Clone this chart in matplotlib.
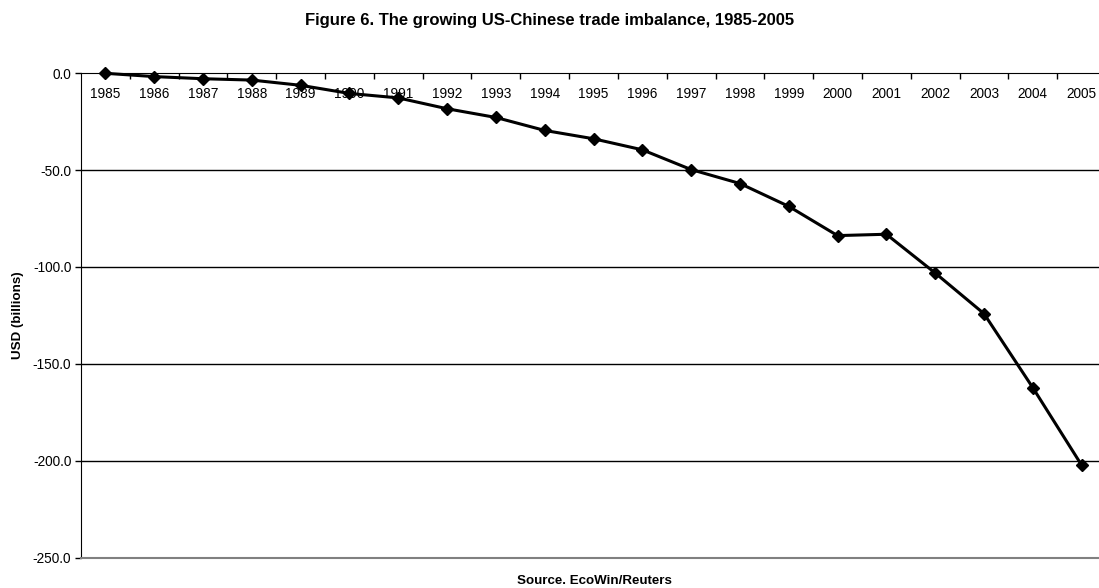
import matplotlib.pyplot as plt
from matplotlib.ticker import FixedLocator

plt.rcParams['font.family'] = ['Liberation Sans', 'DejaVu Sans']

years = [str(y) for y in range(1985, 2006)]
balance = [-0.0, -1.7, -2.8, -3.5, -6.2, -10.4, -12.7, -18.3, -22.8, -29.5,
           -33.8, -39.5, -49.7, -56.9, -68.7, -83.8, -83.1, -103.1, -124.1,
           -162.3, -202.3]
yticks = [0, -50, -100, -150, -200, -250]

W, H = 1099, 588
fig = plt.figure(figsize=(W / 100, H / 100), dpi=100)
left, right, top, bottom = 81, 1106, 73.3, 557.5
ax = fig.add_axes([left / W, 1 - bottom / H, (right - left) / W, (bottom - top) / H])

xs = range(len(years))
ax.plot(xs, balance, color='black', lw=2.2, marker='D', markersize=6.5, clip_on=False, zorder=5)

ax.set_xlim(-0.5, len(years) - 0.5)
ax.set_ylim(-250, 0)
ax.set_yticks(yticks)
ax.set_yticklabels([f"{v:.1f}" for v in yticks])
for v in yticks[1:-1]:
    ax.axhline(v, color='black', lw=1, zorder=1)

# category axis runs along y = 0 at the top
ax.set_xticks(list(xs))
ax.set_xticklabels(years)
ax.xaxis.set_minor_locator(FixedLocator([i + 0.5 for i in range(len(years) - 1)]))
ax.tick_params(axis='x', which='major', top=True, bottom=False, labeltop=True,
               labelbottom=False, length=0, pad=-20, labelsize=9.8)
ax.tick_params(axis='x', which='minor', top=True, bottom=False, direction='in', length=4,
               width=1, color='black')
ax.tick_params(axis='y', direction='out', length=4, width=1, labelsize=9.8, pad=3)

ax.spines['right'].set_visible(False)
ax.spines['top'].set_color('black')
ax.spines['left'].set_color('black')
ax.spines['bottom'].set_color('#808080')
ax.spines['bottom'].set_linewidth(1.5)

fig.text(0.5, 1 - 20 / H, "Figure 6. The growing US-Chinese trade imbalance, 1985-2005",
         ha='center', va='center', fontsize=12, fontweight='bold')
fig.text(18 / W, 1 - 315 / H, "USD (billions)", rotation=90, ha='center', va='center',
         fontsize=9.6, fontweight='bold')
fig.text(594 / W, 1 - 581 / H, "Source. EcoWin/Reuters", ha='center', va='center',
         fontsize=9.6, fontweight='bold')

fig.savefig('out.png', dpi=100)
